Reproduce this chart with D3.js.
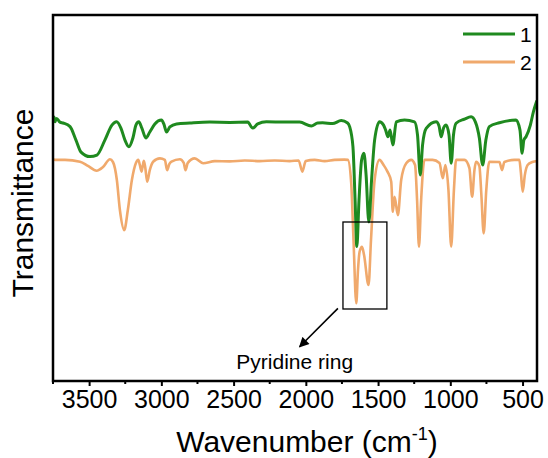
<!DOCTYPE html>
<html>
<head>
<meta charset="utf-8">
<script src="https://cdn.jsdelivr.net/npm/d3@7"></script>
<style>
  body { margin: 0; background: #fff; }
  svg { font-family: "Liberation Sans", Arial, sans-serif; }
</style>
</head>
<body>
<div id="chart"></div>
<script>
// wavenumber (cm-1) and relative transmittance
var wave1 = [3750, 3743, 3736, 3725, 3702, 3680, 3632, 3591, 3556, 3494, 3446, 3391, 3342, 3310, 3280, 3252, 3225, 3197, 3176, 3156, 3135, 3107, 3080, 3045, 2999, 2983, 2964, 2941, 2895, 2803, 2665, 2527, 2402, 2368, 2333, 2273, 2146, 2043, 1962, 1918, 1884, 1815, 1755, 1711, 1697, 1674, 1659, 1647, 1632, 1614, 1598, 1583, 1564, 1545, 1524, 1490, 1462, 1448, 1432, 1417, 1398, 1374, 1317, 1248, 1227, 1208, 1192, 1167, 1098, 1078, 1063, 1047, 1029, 1009, 994, 978, 960, 902, 856, 826, 799, 776, 754, 730, 660, 545, 518, 503, 491, 476, 446, 425, 407, 400];
var trans1 = [87, 88, 86.4, 87.5, 86.3, 86, 84.8, 80.3, 76.3, 74.8, 75.3, 80.3, 85.3, 86.4, 84.3, 80.3, 78.1, 81, 85.3, 86.4, 84.3, 81, 83, 85.7, 87, 85.7, 83, 84.7, 85.7, 86, 86.3, 86.2, 86.3, 84.3, 85.7, 86.4, 86.3, 86.3, 85, 86, 86.1, 85.8, 86.8, 86, 84.8, 78.1, 60.3, 44.8, 60.3, 73.7, 75.9, 68.7, 53, 67, 80.3, 86.4, 85.3, 83.7, 81.4, 83.7, 78.7, 86.4, 87, 86.4, 82, 68.7, 78.7, 84.2, 86.4, 85, 81.4, 84.3, 85.3, 82, 72.6, 82, 85.9, 87.3, 88.1, 86.3, 81, 72, 80.3, 84.8, 86.1, 87, 83.7, 75.9, 80.3, 81.4, 85.3, 89.7, 92.6, 93.5];

var wave2 = [3750, 3736, 3667, 3563, 3508, 3448, 3404, 3356, 3335, 3308, 3287, 3257, 3232, 3204, 3176, 3160, 3149, 3137, 3128, 3121, 3111, 3098, 3080, 3057, 3010, 2976, 2960, 2945, 2930, 2872, 2845, 2833, 2817, 2769, 2711, 2630, 2527, 2423, 2319, 2215, 2112, 2050, 2024, 2001, 1939, 1870, 1801, 1732, 1709, 1686, 1670, 1651, 1639, 1628, 1611, 1597, 1566, 1549, 1524, 1490, 1462, 1434, 1409, 1398, 1386, 1363, 1340, 1305, 1271, 1244, 1230, 1217, 1202, 1179, 1123, 1075, 1052, 1034, 1013, 994, 975, 960, 902, 868, 849, 833, 822, 799, 785, 769, 751, 730, 660, 642, 626, 557, 522, 512, 499, 484, 465, 432, 400];
var trans2 = [74, 73.7, 73.7, 73.1, 71.7, 70.1, 71.3, 73.9, 73, 67, 57, 50.3, 57, 67, 72.7, 73.7, 72, 69.8, 72, 73.4, 71, 66.4, 70.3, 73.1, 74.2, 73.7, 70.3, 72.3, 73.1, 73.9, 72.7, 70.3, 72.7, 74.2, 72.6, 73.3, 73.2, 73.5, 73.3, 73.5, 73.3, 73.5, 69.8, 73.3, 73.7, 73.3, 73.7, 73.8, 73.7, 66, 47, 25.9, 37, 43.1, 44.7, 42, 32, 47, 67, 73.7, 72, 69.7, 66.4, 56.4, 61.4, 55.3, 67, 72.6, 73.7, 72, 60.3, 44.8, 60.3, 73.7, 73.7, 72.7, 67.6, 72, 63.7, 44.8, 63.7, 73.7, 73.7, 71, 61.4, 70.3, 73.1, 71.7, 62, 49.2, 63.7, 73.1, 73, 70.3, 73, 73.7, 73.7, 69.7, 63.1, 68.7, 72, 73, 73.3];

var seriesNames = ["1", "2"];
var colors = ["#1f8a1f", "#f0a96c"];
var xTicks = [3500, 3000, 2500, 2000, 1500, 1000, 500];
var xMinor = [3750, 3250, 2750, 2250, 1750, 1250, 750];

// annotation box + arrow, in data units
var boxWave = [1743, 1439];
var boxTrans = [53, 24];
var arrowFrom = [1778, 24.2];
var arrowTo = [2043, 11.4];
var noteText = "Pyridine ring";
var notePos = [2077, 3.9];

var margin = {top: 15, right: 11, bottom: 77, left: 53};
var W = 548, H = 458;
var w = W - margin.left - margin.right;
var h = H - margin.top - margin.bottom;

var svgRoot = d3.select("#chart").append("svg")
  .attr("width", W)
  .attr("height", H);

svgRoot.append("defs").append("marker")
  .attr("id", "arrow")
  .attr("viewBox", "0 0 10 10")
  .attr("refX", 9).attr("refY", 5)
  .attr("markerWidth", 12).attr("markerHeight", 10)
  .attr("markerUnits", "userSpaceOnUse")
  .attr("orient", "auto")
  .append("path")
  .attr("d", "M0,0 L10,5 L0,10 Z")
  .attr("fill", "#000");

var svg = svgRoot.append("g")
  .attr("transform", "translate(" + margin.left + "," + margin.top + ")");

var x = d3.scaleLinear().domain([3750, 400]).range([0, w]);
var y = d3.scaleLinear().domain([0, h / 3]).range([h, 0]);

var line = d3.line()
  .x(function(d) { return x(d[0]); })
  .y(function(d) { return y(d[1]); })
  .curve(d3.curveMonotoneX);

var series = [d3.zip(wave1, trans1), d3.zip(wave2, trans2)];

svg.append("defs").append("clipPath").attr("id", "clip")
  .append("rect").attr("width", w).attr("height", h);

// orange first so green sits on top
svg.append("path")
  .datum(series[1])
  .attr("clip-path", "url(#clip)")
  .attr("fill", "none")
  .attr("stroke", colors[1])
  .attr("stroke-width", 2.6)
  .attr("stroke-linejoin", "round")
  .attr("d", line);

svg.append("path")
  .datum(series[0])
  .attr("clip-path", "url(#clip)")
  .attr("fill", "none")
  .attr("stroke", colors[0])
  .attr("stroke-width", 3)
  .attr("stroke-linejoin", "round")
  .attr("d", line);

// annotation
svg.append("rect")
  .attr("x", x(boxWave[0]))
  .attr("y", y(boxTrans[0]))
  .attr("width", x(boxWave[1]) - x(boxWave[0]))
  .attr("height", y(boxTrans[1]) - y(boxTrans[0]))
  .attr("fill", "none")
  .attr("stroke", "#000")
  .attr("stroke-width", 1.3);

svg.append("line")
  .attr("x1", x(arrowFrom[0])).attr("y1", y(arrowFrom[1]))
  .attr("x2", x(arrowTo[0])).attr("y2", y(arrowTo[1]))
  .attr("stroke", "#000")
  .attr("stroke-width", 1.6)
  .attr("marker-end", "url(#arrow)");

svg.append("text")
  .attr("x", x(notePos[0]))
  .attr("y", y(notePos[1]))
  .attr("text-anchor", "middle")
  .attr("font-size", 21)
  .text(noteText);

// axes
var xAxis = d3.axisBottom(x).tickValues(xTicks).tickSize(5).tickPadding(4)
  .tickFormat(d3.format("d"));
var gx = svg.append("g")
  .attr("transform", "translate(0," + h + ")")
  .call(xAxis);
gx.select(".domain").remove();
gx.selectAll(".tick line").attr("stroke-width", 2);
gx.selectAll(".tick text")
  .attr("font-size", 25)
  .attr("font-family", "Liberation Sans, Arial, sans-serif")
  .attr("fill", "#000");

svg.selectAll(".minor")
  .data(xMinor)
  .enter()
  .append("line")
  .attr("class", "minor")
  .attr("x1", function(d) { return x(d); })
  .attr("x2", function(d) { return x(d); })
  .attr("y1", h)
  .attr("y2", h + 3)
  .attr("stroke", "#000")
  .attr("stroke-width", 2);

svg.append("rect")
  .attr("width", w)
  .attr("height", h)
  .attr("fill", "none")
  .attr("stroke", "#000")
  .attr("stroke-width", 2.5);

// legend
var legend = svg.selectAll(".legend")
  .data(seriesNames)
  .enter()
  .append("g")
  .attr("transform", function(d, i) { return "translate(" + (w - 74) + "," + (19 + i * 28) + ")"; });
legend.append("line")
  .attr("x1", 0).attr("x2", 52)
  .attr("stroke", function(d, i) { return colors[i]; })
  .attr("stroke-width", 3);
legend.append("text")
  .attr("x", 57)
  .attr("dy", "0.36em")
  .attr("font-size", 21)
  .text(function(d) { return d; });

// axis titles
svg.append("text")
  .attr("transform", "rotate(-90)")
  .attr("x", -(203 - margin.top))
  .attr("y", 33 - margin.left)
  .attr("text-anchor", "middle")
  .attr("font-size", 30)
  .text("Transmittance");

var xt = svg.append("text")
  .attr("x", 307 - margin.left)
  .attr("y", 452 - margin.top)
  .attr("text-anchor", "middle")
  .attr("font-size", 30);
xt.append("tspan").text("Wavenumber (cm");
xt.append("tspan").attr("font-size", 18).attr("dy", -12).text("-1");
xt.append("tspan").attr("dy", 12).text(")");
</script>
</body>
</html>
